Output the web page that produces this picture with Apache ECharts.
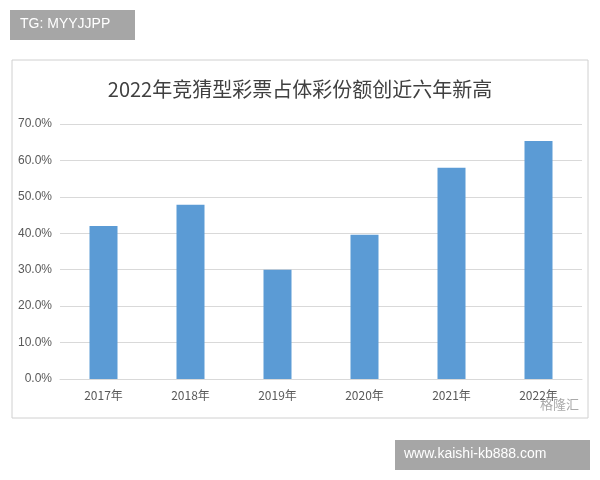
<!DOCTYPE html>
<html>
<head>
<meta charset="utf-8">
<script src="https://cdn.jsdelivr.net/npm/echarts@6/dist/echarts.min.js"></script>
<style>body{margin:0;background:#fff}#Echarts{width:600px;height:480px}</style>
</head>
<body>
<div id="Echarts"></div>
<script>
// 数据
var years = ['2017年', '2018年', '2019年', '2020年', '2021年', '2022年'];
var shares = [42.0, 47.8, 30.0, 39.6, 58.0, 65.3];
var yTicks = [0, 10, 20, 30, 40, 50, 60, 70];

var myChart = echarts.init(document.getElementById('Echarts'));

var option = {
    title: {
        text: '2022年竞猜型彩票占体彩份额创近六年新高',
        left: 'center', top: 74,
        textStyle: { fontFamily: 'Noto Sans CJK SC', fontSize: 20, fontWeight: 'normal', color: '#404040' }
    },
    graphic: [
        { type: 'rect', shape: { x: 12, y: 60, width: 576, height: 358 }, style: { fill: 'none', stroke: '#d0d0d0', lineWidth: 1 } },
        { type: 'rect', shape: { x: 10, y: 10, width: 125, height: 30 }, style: { fill: '#a6a6a6' } },
        { type: 'text', x: 20, y: 17, style: { text: 'TG: MYYJJPP', fill: '#fff', font: '14px "Liberation Sans"' } },
        { type: 'rect', shape: { x: 395, y: 440, width: 195, height: 30 }, style: { fill: '#a6a6a6' } },
        { type: 'text', x: 404, y: 447, style: { text: 'www.kaishi-kb888.com', fill: '#fff', font: '14px "Liberation Sans"' } },
        { type: 'text', x: 540, y: 398, style: { text: '格隆汇', fill: '#aaa', font: '13px "Noto Sans CJK SC"' } }
    ],
    grid: { left: 60, right: 18, top: 124, bottom: 101 },
    xAxis: {
        type: 'category', data: years,
        axisTick: { show: false },
        axisLine: { lineStyle: { color: '#d9d9d9' } },
        axisLabel: { color: '#595959', fontSize: 12, margin: 10, fontFamily: 'Noto Sans CJK SC' }
    },
    yAxis: {
        type: 'value', min: yTicks[0], max: yTicks[yTicks.length - 1], interval: 10,
        axisLabel: { color: '#595959', fontSize: 12, formatter: function (v) { return v.toFixed(1) + '%'; } },
        splitLine: { lineStyle: { color: '#d9d9d9' } }
    },
    series: [{
        type: 'bar', data: shares, barWidth: 28,
        itemStyle: { color: '#5b9bd5' }
    }]
};

myChart.setOption(option);
</script>
</body>
</html>
